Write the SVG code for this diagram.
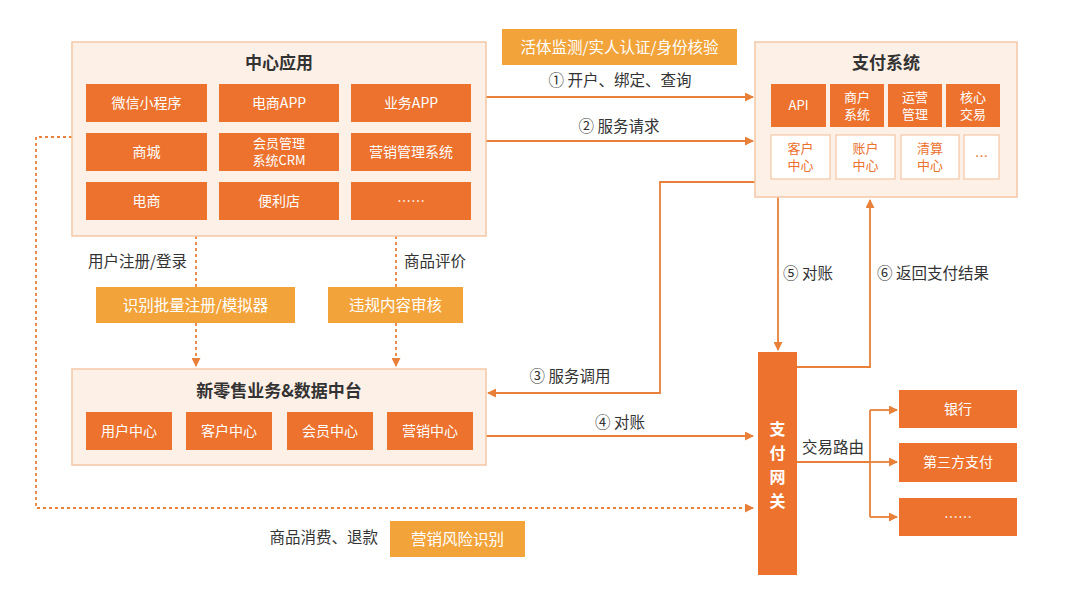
<svg xmlns="http://www.w3.org/2000/svg" width="1080" height="592" viewBox="0 0 1080 592">
<defs>
<marker id="arr" markerUnits="userSpaceOnUse" markerWidth="9" markerHeight="9" refX="8" refY="4.5" orient="auto">
<path d="M0,0 L9,4.5 L0,9 z" fill="#E8803A"/>
</marker>
<style>
text{font-family:"Noto Sans CJK SC","Liberation Sans",sans-serif}
.panel{fill:#FDF0E7;stroke:#F3C7A6;stroke-width:1.5}
.ob{fill:#EC722E}
.lb{fill:#F2A33A}
.wb{fill:#FFFFFF;stroke:#F3C7A6;stroke-width:1.2}
.wt{fill:#FFFFFF;font-size:14px;text-anchor:middle}
.wt2{fill:#FFFFFF;font-size:13px;text-anchor:middle}
.ot{fill:#EC722E;font-size:13px;text-anchor:middle}
.lt{fill:#FFFFFF;font-size:15.5px;text-anchor:middle}
.title{fill:#333333;font-size:17px;font-weight:bold;text-anchor:middle}
.lab{fill:#333333;font-size:15.5px}
.gw{fill:#FFFFFF;font-size:16px;font-weight:bold;text-anchor:middle}
.ln{fill:none;stroke:#E8803A;stroke-width:1.8}
.dl{fill:none;stroke:#E8803A;stroke-width:1.8;stroke-dasharray:3 3}
</style>
</defs>
<rect width="1080" height="592" fill="#FFFFFF"/>

<g id="connectors">
<path class="ln" d="M486,97 H753" marker-end="url(#arr)"/>
<path class="ln" d="M486,141 H753" marker-end="url(#arr)"/>
<path class="ln" d="M755,182 H660 V393 H488" marker-end="url(#arr)"/>
<path class="ln" d="M486,436 H753" marker-end="url(#arr)"/>
<path class="ln" d="M778,197 V350" marker-end="url(#arr)"/>
<path class="ln" d="M797,367 H870 V200" marker-end="url(#arr)"/>
<path class="ln" d="M797,462 H870"/>
<path class="ln" d="M870,410 V517"/>
<path class="ln" d="M870,410 H897" marker-end="url(#arr)"/>
<path class="ln" d="M870,462 H897" marker-end="url(#arr)"/>
<path class="ln" d="M870,517 H897" marker-end="url(#arr)"/>
<path class="dl" d="M72,137 H36 V508 H753" marker-end="url(#arr)"/>
<path class="dl" d="M196,236 V287"/>
<path class="dl" d="M196,323 V366" marker-end="url(#arr)"/>
<path class="dl" d="M396,236 V287"/>
<path class="dl" d="M396,323 V366" marker-end="url(#arr)"/>
<text class="lab" x="620" y="86" text-anchor="middle">① 开户、绑定、查询</text>
<text class="lab" x="619" y="132" text-anchor="middle">② 服务请求</text>
<text class="lab" x="570" y="382" text-anchor="middle">③ 服务调用</text>
<text class="lab" x="620" y="428" text-anchor="middle">④ 对账</text>
<text class="lab" x="783" y="279">⑤ 对账</text>
<text class="lab" x="877" y="279">⑥ 返回支付结果</text>
<text class="lab" x="802" y="453">交易路由</text>
<text class="lab" x="187" y="267" text-anchor="end">用户注册/登录</text>
<text class="lab" x="404" y="267">商品评价</text>
<text class="lab" x="378" y="543" text-anchor="end">商品消费、退款</text>
</g>

<g id="central-app">
<rect class="panel" x="72" y="42" width="414" height="194"/>
<text class="title" x="279" y="69">中心应用</text>
<rect class="ob" x="86" y="84" width="121" height="38"/>
<text class="wt" x="146.5" y="108">微信小程序</text>
<rect class="ob" x="219" y="84" width="120" height="38"/>
<text class="wt" x="279" y="108">电商APP</text>
<rect class="ob" x="351" y="84" width="120" height="38"/>
<text class="wt" x="411" y="108">业务APP</text>
<rect class="ob" x="86" y="133" width="121" height="38"/>
<text class="wt" x="146.5" y="157">商城</text>
<rect class="ob" x="219" y="133" width="120" height="38"/>
<text class="wt2" x="279" y="148">会员管理</text>
<text class="wt2" x="279" y="165">系统CRM</text>
<rect class="ob" x="351" y="133" width="120" height="38"/>
<text class="wt" x="411" y="157">营销管理系统</text>
<rect class="ob" x="86" y="182" width="121" height="38"/>
<text class="wt" x="146.5" y="206">电商</text>
<rect class="ob" x="219" y="182" width="120" height="38"/>
<text class="wt" x="279" y="206">便利店</text>
<rect class="ob" x="351" y="182" width="120" height="38"/>
<text class="wt" x="411" y="206">……</text>
</g>

<g id="liveness-label">
<rect class="lb" x="502" y="29" width="235" height="36"/>
<text class="lt" x="619.5" y="52.5">活体监测/实人认证/身份核验</text>
</g>

<g id="payment-system">
<rect class="panel" x="755" y="42" width="262" height="155"/>
<text class="title" x="886" y="69">支付系统</text>
<rect class="ob" x="771" y="84" width="55" height="43"/>
<text class="wt2" x="798.5" y="110">API</text>
<rect class="ob" x="830" y="84" width="54" height="43"/>
<text class="wt2" x="857" y="102">商户</text>
<text class="wt2" x="857" y="119">系统</text>
<rect class="ob" x="888" y="84" width="54" height="43"/>
<text class="wt2" x="915" y="102">运营</text>
<text class="wt2" x="915" y="119">管理</text>
<rect class="ob" x="946" y="84" width="54" height="43"/>
<text class="wt2" x="973" y="102">核心</text>
<text class="wt2" x="973" y="119">交易</text>
<rect class="wb" x="771" y="135" width="59" height="44"/>
<text class="ot" x="800.5" y="153">客户</text>
<text class="ot" x="800.5" y="170">中心</text>
<rect class="wb" x="836" y="135" width="59" height="44"/>
<text class="ot" x="865.5" y="153">账户</text>
<text class="ot" x="865.5" y="170">中心</text>
<rect class="wb" x="901" y="135" width="58" height="44"/>
<text class="ot" x="930" y="153">清算</text>
<text class="ot" x="930" y="170">中心</text>
<rect class="wb" x="964" y="135" width="35" height="44"/>
<text class="ot" x="981.5" y="161">…</text>
</g>

<g id="batch-register-label">
<rect class="lb" x="96" y="287" width="199" height="36"/>
<text class="lt" x="195.5" y="310.5">识别批量注册/模拟器</text>
</g>

<g id="content-audit-label">
<rect class="lb" x="328" y="287" width="135" height="36"/>
<text class="lt" x="395.5" y="310.5">违规内容审核</text>
</g>

<g id="retail-platform">
<rect class="panel" x="72" y="369" width="414" height="96"/>
<text class="title" x="279" y="397">新零售业务&amp;数据中台</text>
<rect class="ob" x="86" y="412" width="86" height="38"/>
<text class="wt" x="129" y="436">用户中心</text>
<rect class="ob" x="186" y="412" width="86" height="38"/>
<text class="wt" x="229" y="436">客户中心</text>
<rect class="ob" x="287" y="412" width="86" height="38"/>
<text class="wt" x="330" y="436">会员中心</text>
<rect class="ob" x="387" y="412" width="86" height="38"/>
<text class="wt" x="430" y="436">营销中心</text>
</g>

<g id="payment-gateway">
<rect class="ob" x="758" y="352" width="39" height="223"/>
<text class="gw" x="777.5" y="435">支</text>
<text class="gw" x="777.5" y="459">付</text>
<text class="gw" x="777.5" y="483">网</text>
<text class="gw" x="777.5" y="507">关</text>
</g>

<g id="bank">
<rect class="ob" x="899" y="390" width="118" height="38"/>
<text class="wt" x="958" y="414">银行</text>
</g>
<g id="third-party">
<rect class="ob" x="899" y="443" width="118" height="39"/>
<text class="wt" x="958" y="467">第三方支付</text>
</g>
<g id="more-channels">
<rect class="ob" x="899" y="498" width="118" height="38"/>
<text class="wt" x="958" y="522">……</text>
</g>

<g id="marketing-risk-label">
<rect class="lb" x="390" y="521" width="135" height="36"/>
<text class="lt" x="457.5" y="544.5">营销风险识别</text>
</g>
</svg>
